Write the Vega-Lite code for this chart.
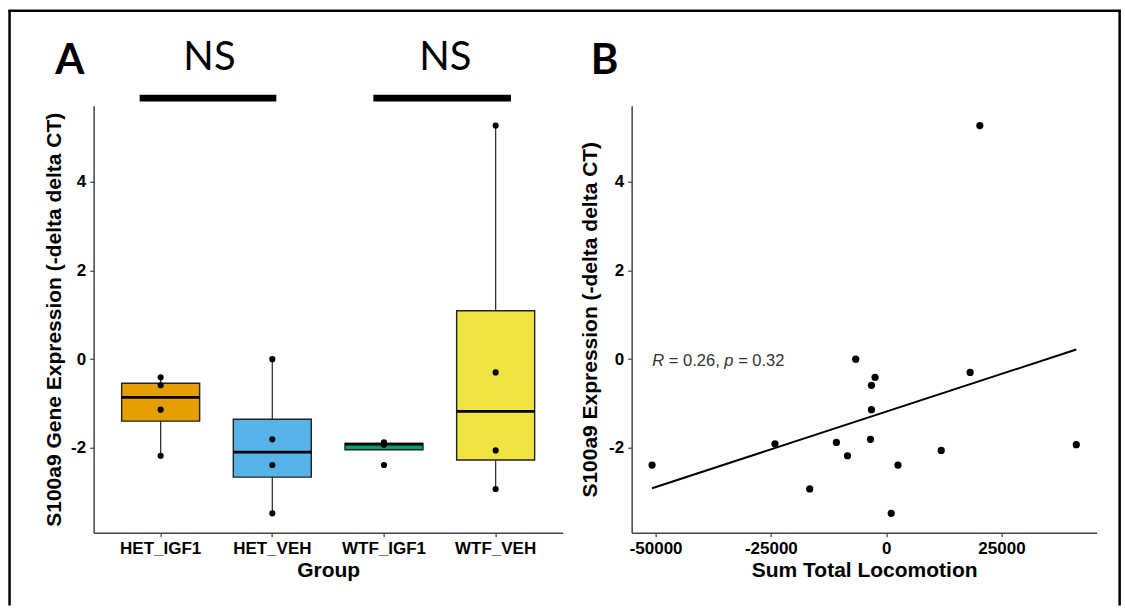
{
  "$schema": "https://vega.github.io/schema/vega-lite/v6.json",
  "background": "white",
  "autosize": {"type": "pad"},
  "padding": {"left": 6.65, "top": 8.75, "right": 0, "bottom": 0},
  "datasets": {
    "samples": [
      {"group": "HET_IGF1", "expression": -0.41, "locomotion": -2410},
      {"group": "HET_IGF1", "expression": -0.59, "locomotion": -3190},
      {"group": "HET_IGF1", "expression": -1.14, "locomotion": -3190},
      {"group": "HET_IGF1", "expression": -2.18, "locomotion": -8380},
      {"group": "HET_VEH", "expression": 0.0, "locomotion": -6600},
      {"group": "HET_VEH", "expression": -1.81, "locomotion": -3400},
      {"group": "HET_VEH", "expression": -2.39, "locomotion": 2560},
      {"group": "HET_VEH", "expression": -3.48, "locomotion": 1100},
      {"group": "WTF_IGF1", "expression": -1.93, "locomotion": 41230},
      {"group": "WTF_IGF1", "expression": -1.88, "locomotion": -10790},
      {"group": "WTF_IGF1", "expression": -1.91, "locomotion": -24110},
      {"group": "WTF_IGF1", "expression": -2.39, "locomotion": -50760},
      {"group": "WTF_VEH", "expression": -0.30, "locomotion": 18210},
      {"group": "WTF_VEH", "expression": -2.06, "locomotion": 11940},
      {"group": "WTF_VEH", "expression": -2.93, "locomotion": -16580},
      {"group": "WTF_VEH", "expression": 5.27, "locomotion": 20310}
    ]
  },
  "config": {
    "view": {"stroke": null},
    "font": "Liberation Sans",
    "axis": {
      "grid": false,
      "domainColor": "#444",
      "domainWidth": 1.5,
      "tickColor": "#444",
      "tickWidth": 1.2,
      "tickSize": 4,
      "labelFont": "Liberation Sans",
      "labelFontSize": 17,
      "labelFontWeight": "bold",
      "labelColor": "black",
      "labelPadding": 4,
      "titleFont": "Liberation Sans",
      "titleFontSize": 21,
      "titleFontWeight": "bold",
      "titleColor": "black"
    }
  },
  "bounds": "flush",
  "spacing": 69,
  "hconcat": [
    {
      "width": 469,
      "height": 427,
      "layer": [
        {
          "data": {"name": "samples"},
          "mark": {
            "type": "boxplot",
            "extent": 1.5,
            "size": 78,
            "outliers": false,
            "box": {"stroke": "#222", "strokeWidth": 1.4, "opacity": 1},
            "median": {"color": "black", "thickness": 2.8, "opacity": 1},
            "rule": {"color": "#333", "strokeWidth": 1.3, "opacity": 1}
          },
          "encoding": {
            "x": {
              "field": "group",
              "type": "nominal",
              "scale": {"type": "band", "paddingInner": 0, "paddingOuter": 0.1},
              "axis": {"title": "Group", "labelAngle": 0, "titlePadding": 3}
            },
            "y": {
              "field": "expression",
              "type": "quantitative",
              "scale": {"domain": [-3.918, 5.718], "nice": false, "zero": false},
              "axis": {
                "title": "S100a9 Gene Expression (-delta delta CT)",
                "values": [-2, 0, 2, 4],
                "labelExpr": "toString(datum.value)",
                "titlePadding": 6
              }
            },
            "color": {
              "field": "group",
              "type": "nominal",
              "scale": {
                "domain": ["HET_IGF1", "HET_VEH", "WTF_IGF1", "WTF_VEH"],
                "range": ["#E69F00", "#56B4E9", "#009E73", "#F0E442"]
              },
              "legend": null
            }
          }
        },
        {
          "data": {"name": "samples"},
          "mark": {"type": "circle", "size": 38, "color": "black", "opacity": 1},
          "encoding": {
            "x": {"field": "group", "type": "nominal"},
            "y": {"field": "expression", "type": "quantitative"}
          }
        },
        {
          "data": {"values": [{"from": "HET_IGF1", "to": "HET_VEH", "label": "NS"}]},
          "layer": [
            {
              "mark": {"type": "rule", "color": "black", "strokeWidth": 6.7, "strokeCap": "butt", "xOffset": -21, "x2Offset": 4},
              "encoding": {
                "x": {"field": "from", "type": "nominal"},
                "x2": {"field": "to"},
                "y": {"datum": 5.892, "type": "quantitative"}
              }
            },
            {
              "mark": {"type": "text", "font": "Lato", "fontSize": 40, "align": "center", "baseline": "alphabetic", "color": "black", "dx": -7},
              "encoding": {
                "x": {"field": "to", "type": "nominal", "bandPosition": 0},
                "y": {"datum": 6.524, "type": "quantitative"},
                "text": {"field": "label"}
              }
            }
          ]
        },
        {
          "data": {"values": [{"from": "WTF_IGF1", "to": "WTF_VEH", "label": "NS"}]},
          "layer": [
            {
              "mark": {"type": "rule", "color": "black", "strokeWidth": 6.7, "strokeCap": "butt", "xOffset": -10.6, "x2Offset": 15.3},
              "encoding": {
                "x": {"field": "from", "type": "nominal"},
                "x2": {"field": "to"},
                "y": {"datum": 5.892, "type": "quantitative"}
              }
            },
            {
              "mark": {"type": "text", "font": "Lato", "fontSize": 40, "align": "center", "baseline": "alphabetic", "color": "black", "dx": 5.6},
              "encoding": {
                "x": {"field": "to", "type": "nominal", "bandPosition": 0},
                "y": {"datum": 6.524, "type": "quantitative"},
                "text": {"field": "label"}
              }
            }
          ]
        },
        {
          "data": {"values": [{"panel": "A", "at": "HET_IGF1"}]},
          "mark": {"type": "text", "font": "Lato", "fontWeight": "bold", "fontSize": 42, "align": "center", "baseline": "alphabetic", "color": "black", "dx": -90.7},
          "encoding": {
            "x": {"field": "at", "type": "nominal"},
            "y": {"datum": 6.433, "type": "quantitative"},
            "text": {"field": "panel"}
          }
        }
      ]
    },
    {
      "width": 465,
      "height": 427,
      "layer": [
        {
          "data": {"name": "samples"},
          "mark": {"type": "circle", "size": 52, "color": "black", "opacity": 1},
          "encoding": {
            "x": {
              "field": "locomotion",
              "type": "quantitative",
              "scale": {"domain": [-55190, 45640], "nice": false, "zero": false},
              "axis": {
                "title": "Sum Total Locomotion",
                "values": [-50000, -25000, 0, 25000],
                "labelExpr": "toString(datum.value)",
                "titlePadding": 3
              }
            },
            "y": {
              "field": "expression",
              "type": "quantitative",
              "scale": {"domain": [-3.918, 5.718], "nice": false, "zero": false},
              "axis": {
                "title": "S100a9 Expression (-delta delta CT)",
                "values": [-2, 0, 2, 4],
                "labelExpr": "toString(datum.value)",
                "titlePadding": 8
              }
            }
          }
        },
        {
          "data": {"name": "samples"},
          "transform": [{"regression": "expression", "on": "locomotion"}],
          "mark": {"type": "line", "color": "black", "strokeWidth": 2},
          "encoding": {
            "x": {"field": "locomotion", "type": "quantitative"},
            "y": {"field": "expression", "type": "quantitative"}
          }
        },
        {
          "data": {"values": [{"t1": "R", "t2": "= 0.26,", "t3": "p", "t4": "= 0.32"}]},
          "encoding": {
            "x": {"datum": -50700, "type": "quantitative"},
            "y": {"datum": 0, "type": "quantitative"}
          },
          "layer": [
            {"mark": {"type": "text", "fontSize": 16.5, "fontStyle": "italic", "color": "#333", "align": "left", "baseline": "middle", "dy": 2, "dx": 0}, "encoding": {"text": {"field": "t1"}}},
            {"mark": {"type": "text", "fontSize": 16.5, "color": "#333", "align": "left", "baseline": "middle", "dy": 2, "dx": 16.5}, "encoding": {"text": {"field": "t2"}}},
            {"mark": {"type": "text", "fontSize": 16.5, "fontStyle": "italic", "color": "#333", "align": "left", "baseline": "middle", "dy": 2, "dx": 72}, "encoding": {"text": {"field": "t3"}}},
            {"mark": {"type": "text", "fontSize": 16.5, "color": "#333", "align": "left", "baseline": "middle", "dy": 2, "dx": 85.8}, "encoding": {"text": {"field": "t4"}}}
          ]
        },
        {
          "data": {"values": [{"panel": "B"}]},
          "mark": {"type": "text", "font": "Lato", "fontWeight": "bold", "fontSize": 42, "align": "center", "baseline": "alphabetic", "color": "black"},
          "encoding": {
            "x": {"datum": -61045, "type": "quantitative"},
            "y": {"datum": 6.433, "type": "quantitative"},
            "text": {"field": "panel"}
          }
        },
        {
          "data": {"values": [{"side": "frame"}]},
          "layer": [
            {
              "mark": {"type": "rule", "color": "black", "strokeWidth": 2.5, "strokeCap": "butt"},
              "encoding": {
                "x": {"datum": -190350, "type": "quantitative"},
                "x2": {"datum": 50900},
                "y": {"datum": 7.862, "type": "quantitative"}
              }
            },
            {
              "mark": {"type": "rule", "color": "black", "strokeWidth": 2.5, "strokeCap": "butt"},
              "encoding": {
                "x": {"datum": -190086, "type": "quantitative"},
                "y": {"datum": 7.862, "type": "quantitative"},
                "y2": {"datum": -5.56}
              }
            },
            {
              "mark": {"type": "rule", "color": "black", "strokeWidth": 2.5, "strokeCap": "butt"},
              "encoding": {
                "x": {"datum": 50628, "type": "quantitative"},
                "y": {"datum": 7.862, "type": "quantitative"},
                "y2": {"datum": -5.56}
              }
            }
          ]
        }
      ]
    }
  ]
}
